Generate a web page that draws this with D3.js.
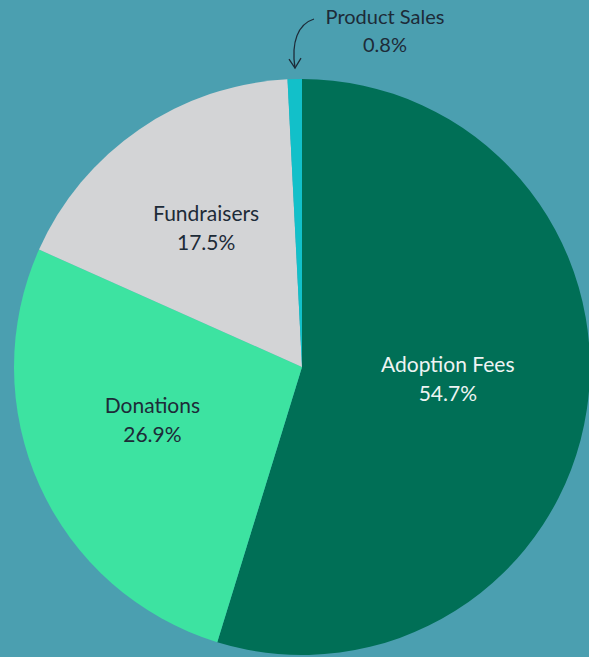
<!DOCTYPE html>
<html>
<head>
<meta charset="utf-8">
<script src="https://cdn.jsdelivr.net/npm/d3@7"></script>
<style>
  html, body { margin: 0; padding: 0; background: #4b9fb0; }
  svg { display: block; }
</style>
</head>
<body>
<div class="container"></div>
<script>
// revenue sources pie

const categories = ["Adoption Fees", "Donations", "Fundraisers", "Product Sales"];
const shares = [54.7, 26.9, 17.5, 0.8];
const colors = ["#006f56", "#3de3a1", "#d3d4d6", "#12c0c9"];

const w = 589;
const h = 657;
const r = 288;
const cx = 302;
const cy = 367;

let data = categories.map((c, i) => ({ name: c, value: shares[i], color: colors[i] }));

const svg = d3
  .select(".container")
  .append("svg")
  .attr("width", w)
  .attr("height", h);

svg.append("rect").attr("width", w).attr("height", h).attr("fill", "#4b9fb0");

const pie = d3.pie().sort(null).value((d) => d.value);
const arc = d3.arc().innerRadius(0).outerRadius(r);
const labelArc = d3.arc().innerRadius(r * 0.54).outerRadius(r * 0.54);

const g = svg.append("g").attr("transform", `translate(${cx},${cy})`);

let arcs = pie(data);

g.selectAll("path")
  .data(arcs)
  .join("path")
  .attr("d", arc)
  .attr("fill", (d) => d.data.color);

// inside labels (skip tiny slice)
let inside = arcs.filter((d) => d.data.value > 5);

let lbl = g
  .selectAll("text.lbl")
  .data(inside)
  .join("text")
  .attr("class", "lbl")
  .attr("transform", (d) => `translate(${labelArc.centroid(d)})`)
  .attr("text-anchor", "middle")
  .attr("font-family", "Lato, 'Open Sans', sans-serif")
  .attr("font-size", "21px")
  .attr("fill", (d, i) => (i === 0 ? "#eef4f3" : "#1d2b38"));

lbl.append("tspan").attr("x", -8).attr("y", -18).text((d) => d.data.name);
lbl.append("tspan").attr("x", -8).attr("y", 11).text((d) => d.data.value.toFixed(1) + "%");

// small slice gets an outside label with a curved arrow
let small = arcs.filter((d) => d.data.value <= 5)[0];
let mid = (small.startAngle + small.endAngle) / 2;
let tip = [Math.sin(mid) * (r + 12), -Math.cos(mid) * (r + 12)];

let out = g
  .append("text")
  .attr("text-anchor", "middle")
  .attr("font-family", "Lato, 'Open Sans', sans-serif")
  .attr("font-size", "20px")
  .attr("fill", "#1d2b38");
out.append("tspan").attr("x", 83).attr("y", -343).text(small.data.name);
out.append("tspan").attr("x", 83).attr("y", -315).text(small.data.value.toFixed(1) + "%");

const curve = d3.path();
curve.moveTo(12, -348);
curve.bezierCurveTo(-4, -343, -11, -325, -7, tip[1] + 1);
g.append("path")
  .attr("d", curve.toString())
  .attr("fill", "none")
  .attr("stroke", "#1d2b38")
  .attr("stroke-width", 1.3);

g.append("path")
  .attr("d", `M${-13},${tip[1] - 8} L${-7},${tip[1] + 1} L${-1},${tip[1] - 9}`)
  .attr("fill", "none")
  .attr("stroke", "#1d2b38")
  .attr("stroke-width", 1.3);
</script>
</body>
</html>
